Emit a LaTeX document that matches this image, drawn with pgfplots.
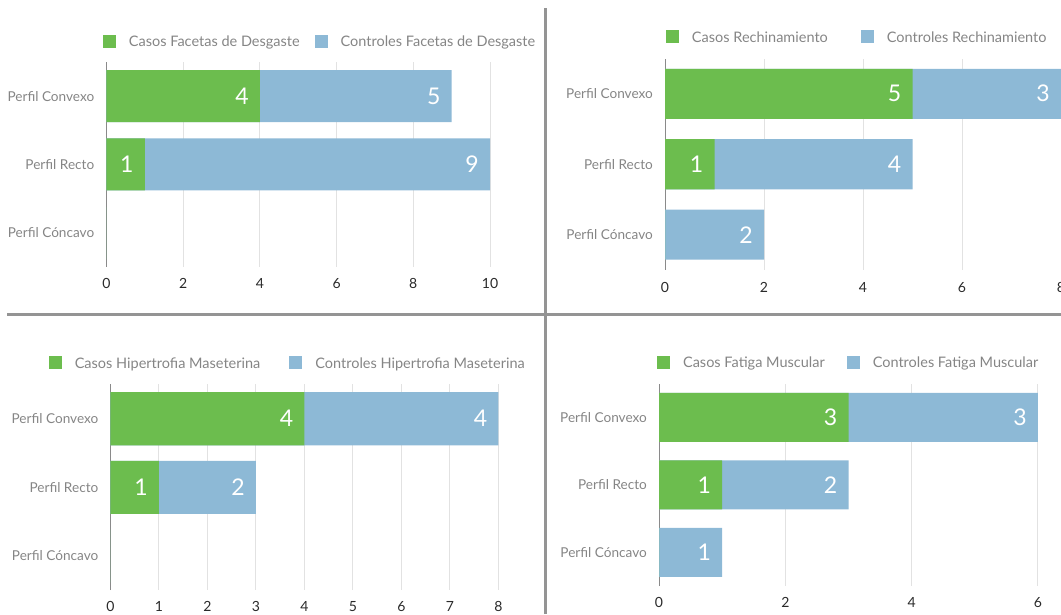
\documentclass[border=0pt]{standalone}
\usepackage{fontspec}
\setmainfont{Lato}
\usepackage{pgfplots}
\pgfplotsset{compat=1.18}

\definecolor{gcol}{HTML}{6CBD4E}
\definecolor{bcol}{HTML}{8DB9D6}
\definecolor{lbl}{HTML}{858585}
\definecolor{tickc}{HTML}{2A2A2A}
\definecolor{gridc}{HTML}{E2E2E2}
\definecolor{sepc}{HTML}{949494}
\definecolor{axc}{HTML}{8A8A8A}

% Bars are drawn overlaid from zero: the blue "controles" bar is plotted to
% the stacked total (casos + controles) and the green "casos" bar on top of it.
\pgfplotsset{
  panel/.style={
    xbar, bar shift=0pt, scale only axis, anchor=south west,
    ymin=-0.5, ymax=2.5, xmin=0,
    ytick={0,1,2},
    yticklabels={Perfil Cóncavo, Perfil Recto, Perfil Convexo},
    axis x line*=bottom, axis y line*=left,
    x axis line style={draw=none},
    y axis line style={draw=axc, line width=1pt},
    major tick length=0pt,
    xmajorgrids, grid style={draw=gridc, line width=1pt},
    /pgf/number format/assume math mode=true,
    xticklabel style={font=\fontsize{14}{14}\selectfont, text=tickc, inner sep=0pt, anchor=north, yshift=-11pt},
    yticklabel style={font=\fontsize{13.6}{13.6}\selectfont, text=lbl, inner sep=0pt, anchor=east, xshift=-12pt},
    nodes near coords,
    point meta=explicit symbolic,
    every node near coord/.append style={anchor=east, xshift=-11pt, text=white, inner sep=0pt, font=\fontsize{23}{23}\selectfont},
    legend columns=2,
    reverse legend,
    legend image code/.code={\fill[##1] (0pt,-6.5pt) rectangle (13pt,6.5pt);},
    legend style={draw=none, fill=none, inner sep=0pt, outer sep=0pt,
      font=\fontsize{14.5}{14.5}\selectfont, text=lbl,
      nodes={inner sep=0pt, text depth=0pt},
      /tikz/every odd column/.append style={column sep=13pt},
      anchor=west},
    legend cell align=left,
  },
  casos/.style={fill=gcol, draw=none, bar shift=0pt},
  controles/.style={fill=bcol, draw=none, bar shift=0pt},
}

\begin{document}
\begin{tikzpicture}
\useasboundingbox (0,0) rectangle (1061pt,614pt);

% Panel 1: Facetas de Desgaste  (casos 4,1,0 ; controles 5,9,0)
\begin{axis}[panel, at={(106.4pt,347pt)}, width=383.6pt, height=205pt,
  xmax=10, xtick={0,2,4,6,8,10}, bar width=52pt,
  legend style={at={(-0.009,1.102)}, /tikz/every even column/.append style={column sep=15pt}}]
\addplot+[controles] coordinates {(9,2) [5] (10,1) [9] (0,0) []};
\addplot+[casos] coordinates {(4,2) [4] (1,1) [1] (0,0) []};
\legend{Controles Facetas de Desgaste, Casos Facetas de Desgaste}
\end{axis}

% Panel 2: Rechinamiento  (casos 5,1,0 ; controles 3,4,2)
\begin{axis}[panel, at={(665pt,344pt)}, width=396pt, height=211.5pt,
  xmax=8, xtick={0,2,4,6,8}, bar width=50pt,
  xticklabel style={yshift=-1pt},
  legend style={at={(0.0025,1.103)}, /tikz/every even column/.append style={column sep=33pt}}]
\addplot+[controles] coordinates {(8,2) [3] (5,1) [4] (2,0) [2]};
\addplot+[casos] coordinates {(5,2) [5] (1,1) [1] (0,0) []};
\legend{Controles Rechinamiento, Casos Rechinamiento}
\end{axis}

% Panel 3: Hipertrofia Maseterina  (casos 4,1,0 ; controles 4,2,0)
\begin{axis}[panel, at={(110.5pt,24pt)}, width=388pt, height=205.5pt,
  xmax=8, xtick={0,1,2,3,4,5,6,7,8}, bar width=53pt,
  legend style={at={(-0.159,1.105)}, /tikz/every even column/.append style={column sep=29pt}}]
\addplot+[controles] coordinates {(8,2) [4] (3,1) [2] (0,0) []};
\addplot+[casos] coordinates {(4,2) [4] (1,1) [1] (0,0) []};
\legend{Controles Hipertrofia Maseterina, Casos Hipertrofia Maseterina}
\end{axis}

% Panel 4: Fatiga Muscular  (casos 3,1,0 ; controles 3,2,1)
\begin{axis}[panel, at={(659pt,28pt)}, width=379pt, height=202.5pt,
  xmax=6, xtick={0,2,4,6}, bar width=49pt,
  legend style={at={(-0.005,1.106)}, /tikz/every even column/.append style={column sep=22pt}}]
\addplot+[controles] coordinates {(6,2) [3] (3,1) [2] (1,0) [1]};
\addplot+[casos] coordinates {(3,2) [3] (1,1) [1] (0,0) []};
\legend{Controles Fatiga Muscular, Casos Fatiga Muscular}
\end{axis}

% panel separators
\draw[sepc, line width=3pt] (545pt,0pt) -- (545pt,606pt);
\draw[sepc, line width=3pt] (7pt,299pt) -- (1061pt,299pt);
\end{tikzpicture}
\end{document}
